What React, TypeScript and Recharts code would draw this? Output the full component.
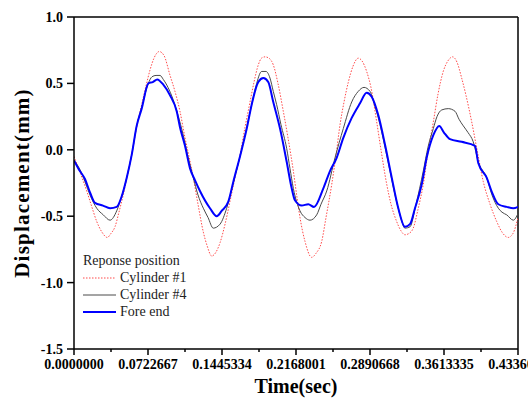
import { LineChart, Line, XAxis, YAxis, ReferenceLine, Legend, Label } from 'recharts';

// Cylinder #1 (red dotted)
const cyl1Time = [
  0.0, 0.0059, 0.0124, 0.0166, 0.0222, 0.0273, 0.0325, 0.0361, 0.04, 0.0439, 0.0481, 0.0527, 0.0563,
  0.0612, 0.0661, 0.0703, 0.0742, 0.0781, 0.0833, 0.0879, 0.0938, 0.0986, 0.1035, 0.1084, 0.1123,
  0.1165, 0.1211, 0.1263, 0.1299, 0.1345, 0.1387, 0.1426, 0.1475, 0.1523, 0.1572, 0.1621, 0.167,
  0.1719, 0.1758, 0.18, 0.1831, 0.1865, 0.1904, 0.1946, 0.1992, 0.2044, 0.209, 0.2142, 0.2178, 0.2207,
  0.2256, 0.2321, 0.2363, 0.2419, 0.2461, 0.2517, 0.2559, 0.2598, 0.2637, 0.2679, 0.2725, 0.2776,
  0.2812, 0.2858, 0.29, 0.2956, 0.2998, 0.3054, 0.3096, 0.3151, 0.3193, 0.3232, 0.3271, 0.3313,
  0.3359, 0.3411, 0.3457, 0.3509, 0.3555, 0.3606, 0.3652, 0.3698, 0.374, 0.3786, 0.3828, 0.3884,
  0.3936, 0.3997, 0.4063, 0.4128, 0.418, 0.4241, 0.4287, 0.4336,
];
const cyl1Disp = [
  -0.05, -0.17, -0.31, -0.41, -0.54, -0.62, -0.66, -0.63, -0.58, -0.47, -0.34, -0.17, -0.04,
  0.17, 0.34, 0.48, 0.6, 0.69, 0.74, 0.71, 0.56, 0.44, 0.29, 0.09, -0.05,
  -0.21, -0.41, -0.62, -0.72, -0.8, -0.77, -0.7, -0.56, -0.39, -0.21, -0.04, 0.17,
  0.36, 0.51, 0.64, 0.69, 0.7, 0.69, 0.64, 0.5, 0.29, 0.09, -0.16, -0.36, -0.51,
  -0.69, -0.81, -0.78, -0.69, -0.51, -0.26, -0.04, 0.19, 0.36, 0.51, 0.63, 0.69,
  0.67, 0.59, 0.47, 0.21, 0.0, -0.26, -0.41, -0.54, -0.61, -0.64, -0.63, -0.59,
  -0.45, -0.26, -0.02, 0.21, 0.42, 0.59, 0.67, 0.7, 0.66, 0.54, 0.41, 0.21,
  0.0, -0.24, -0.41, -0.54, -0.62, -0.66, -0.63, -0.51,
];

// Cylinder #4 (grey)
const cyl4Time = [
  0.0, 0.0059, 0.0107, 0.0156, 0.0222, 0.0286, 0.0352, 0.0417, 0.0466, 0.0515, 0.0563, 0.0612,
  0.0661, 0.0726, 0.0762, 0.0801, 0.084, 0.0872, 0.0918, 0.0967, 0.1016, 0.1067, 0.1113, 0.1165,
  0.1211, 0.1263, 0.1309, 0.136, 0.1426, 0.1491, 0.1556, 0.1621, 0.1687, 0.1735, 0.1777, 0.1833,
  0.1875, 0.1914, 0.1946, 0.1979, 0.2021, 0.2077, 0.2109, 0.2142, 0.2207, 0.2256, 0.2305, 0.237,
  0.2412, 0.2468, 0.2549, 0.263, 0.2712, 0.2776, 0.2832, 0.2891, 0.293, 0.2972, 0.3037, 0.3086,
  0.3135, 0.3184, 0.3232, 0.3281, 0.334, 0.3411, 0.3457, 0.3509, 0.3545, 0.3591, 0.3655, 0.3721,
  0.376, 0.3802, 0.3848, 0.3899, 0.3948, 0.403, 0.4082, 0.4144, 0.418, 0.4226, 0.429, 0.4336,
];
const cyl4Disp = [
  -0.08, -0.15, -0.24, -0.34, -0.44, -0.49, -0.53, -0.46, -0.35, -0.21, -0.04, 0.18,
  0.32, 0.5, 0.55, 0.56, 0.56, 0.53, 0.47, 0.38, 0.26, 0.11, -0.05, -0.21,
  -0.34, -0.44, -0.51, -0.59, -0.56, -0.44, -0.25, -0.05, 0.17, 0.34, 0.48, 0.59,
  0.59, 0.54, 0.44, 0.34, 0.19, 0.01, -0.14, -0.29, -0.46, -0.51, -0.53, -0.49,
  -0.41, -0.31, -0.06, 0.16, 0.36, 0.44, 0.47, 0.44, 0.35, 0.24, 0.02, -0.16,
  -0.34, -0.49, -0.59, -0.58, -0.41, -0.16, 0.02, 0.16, 0.25, 0.3, 0.31, 0.29,
  0.23, 0.18, 0.13, 0.06, -0.09, -0.21, -0.34, -0.44, -0.47, -0.49, -0.53, -0.48,
];

// Fore end (blue)
const foreTime = [
  0.0, 0.0049, 0.0107, 0.0156, 0.0205, 0.0283, 0.0352, 0.0417, 0.0466, 0.0515, 0.0563, 0.0612,
  0.0661, 0.0726, 0.0769, 0.0813, 0.0872, 0.0938, 0.1003, 0.1035, 0.1084, 0.1133, 0.1182, 0.123,
  0.1328, 0.1394, 0.1442, 0.1507, 0.1556, 0.1621, 0.1687, 0.1735, 0.18, 0.1849, 0.1897, 0.1946,
  0.2012, 0.2077, 0.2126, 0.2158, 0.2224, 0.2288, 0.2344, 0.2435, 0.25, 0.2565, 0.263, 0.2712,
  0.2793, 0.2858, 0.2907, 0.2972, 0.3037, 0.3103, 0.3167, 0.3232, 0.3281, 0.333, 0.3396, 0.3444,
  0.3509, 0.3567, 0.3613, 0.3672, 0.3786, 0.3916, 0.3948, 0.403, 0.4082, 0.4144, 0.4226, 0.429, 0.4336,
];
const foreDisp = [
  -0.08, -0.15, -0.22, -0.32, -0.4, -0.42, -0.44, -0.43, -0.35, -0.21, -0.04, 0.18,
  0.31, 0.5, 0.51, 0.53, 0.49, 0.41, 0.29, 0.17, 0.03, -0.14, -0.23, -0.31,
  -0.44, -0.5, -0.46, -0.39, -0.24, -0.05, 0.16, 0.34, 0.51, 0.54, 0.51, 0.36,
  0.16, -0.09, -0.29, -0.38, -0.42, -0.41, -0.43, -0.29, -0.16, -0.06, 0.09, 0.24,
  0.35, 0.43, 0.4, 0.26, 0.04, -0.21, -0.44, -0.58, -0.56, -0.44, -0.26, -0.06,
  0.11, 0.18, 0.13, 0.08, 0.06, 0.03, -0.1, -0.21, -0.32, -0.41, -0.43, -0.44, -0.43,
];

const xTicks = [
  0, 0.0361334, 0.0722667, 0.1084001, 0.1445334, 0.1806668, 0.2168001, 0.2529335, 0.2890668,
  0.3252002, 0.3613335, 0.3974669, 0.4336002,
];
const xTickLabels = ['0.0000000', '0.0722667', '0.1445334', '0.2168001', '0.2890668', '0.3613335', '0.4336002'];
const yTicks = [-1.5, -1.0, -0.5, 0.0, 0.5, 1.0];

const zip = (ts: number[], vs: number[]) => ts.map((t, i) => ({ t, v: vs[i] }));
const cyl1Data = zip(cyl1Time, cyl1Disp);
const cyl4Data = zip(cyl4Time, cyl4Disp);
const foreData = zip(foreTime, foreDisp);

const FONT = "'Liberation Serif', 'DejaVu Serif', serif";

function XTick(props: any) {
  const { x, y, index } = props;
  const major = index % 2 === 0;
  return (
    <g>
      <line x1={x} x2={x} y1={y - 6} y2={y - 6 + (major ? 6 : 3)} stroke="#000" strokeWidth={1.5} />
      {major && (
        <text x={x} y={y + 4} dy="0.71em" textAnchor="middle" fontFamily={FONT} fontSize={14} fontWeight="bold" fill="#000">
          {xTickLabels[index / 2]}
        </text>
      )}
    </g>
  );
}

function LegendBox(props: any) {
  const { payload } = props;
  return (
    <div style={{ fontFamily: FONT, fontSize: 14, lineHeight: '17px', color: '#222' }}>
      <div>Reponse position</div>
      {(payload || []).map((p: any) => (
        <div key={p.value} style={{ display: 'flex', alignItems: 'center' }}>
          <svg width={33} height={6} style={{ marginRight: 4 }}>
            <line
              x1={0}
              x2={33}
              y1={3}
              y2={3}
              stroke={p.payload.stroke}
              strokeWidth={p.payload.strokeWidth}
              strokeDasharray={p.payload.strokeDasharray}
            />
          </svg>
          <span>{p.value}</span>
        </div>
      ))}
    </div>
  );
}

export default function App() {
  return (
    <div style={{ position: 'absolute', left: 0, top: 0, background: '#fff' }}>
      <LineChart width={528} height={398} margin={{ top: 17, right: 10, bottom: 0, left: 0 }}>
        <XAxis
          dataKey="t"
          type="number"
          domain={[0, 0.4336002]}
          allowDataOverflow
          ticks={xTicks}
          interval={0}
          tickSize={6}
          tickMargin={0}
          tickLine={false}
          tick={<XTick />}
          height={49}
          stroke="#000"
          strokeWidth={1.5}
        >
          <Label value="Time(sec)" position="insideBottom" offset={5} fontFamily={FONT} fontSize={20} fontWeight="bold" fill="#000" />
        </XAxis>
        <YAxis
          type="number"
          domain={[-1.5, 1.0]}
          ticks={yTicks}
          interval={0}
          tickFormatter={(v: number) => v.toFixed(1)}
          tickSize={7}
          tickMargin={4}
          width={74}
          stroke="#000"
          strokeWidth={1.5}
          tick={{ fontFamily: FONT, fontSize: 14, fontWeight: 'bold', fill: '#000' }}
        >
          <Label
            content={({ viewBox }: any) => {
              const cx = 22;
              const cy = viewBox.y + viewBox.height / 2;
              return (
                <text
                  x={cx}
                  y={cy}
                  transform={`rotate(-90, ${cx}, ${cy})`}
                  textAnchor="middle"
                  dominantBaseline="central"
                  fontFamily={FONT}
                  fontSize={21}
                  letterSpacing={1.2}
                  fontWeight="bold"
                  fill="#000"
                >
                  Displacement(mm)
                </text>
              );
            }}
          />
        </YAxis>
        <ReferenceLine y={1.0} stroke="#000" strokeWidth={1.5} />
        <ReferenceLine x={0.4336002} stroke="#000" strokeWidth={1.5} />
        <Legend
          layout="vertical"
          align="center"
          verticalAlign="middle"
          content={<LegendBox />}
          wrapperStyle={{ left: 83, top: 252, width: 'auto' }}
        />
        <Line
          data={cyl1Data}
          dataKey="v"
          name="Cylinder #1"
          type="monotone"
          stroke="#ff4a4a"
          strokeWidth={1}
          strokeDasharray="1.5 1.5"
          dot={false}
          isAnimationActive={false}
        />
        <Line
          data={cyl4Data}
          dataKey="v"
          name="Cylinder #4"
          type="monotone"
          stroke="#4a4a4a"
          strokeWidth={1}
          dot={false}
          isAnimationActive={false}
        />
        <Line
          data={foreData}
          dataKey="v"
          name="Fore end"
          type="monotone"
          stroke="#0000ff"
          strokeWidth={2}
          dot={false}
          isAnimationActive={false}
        />
      </LineChart>
    </div>
  );
}
